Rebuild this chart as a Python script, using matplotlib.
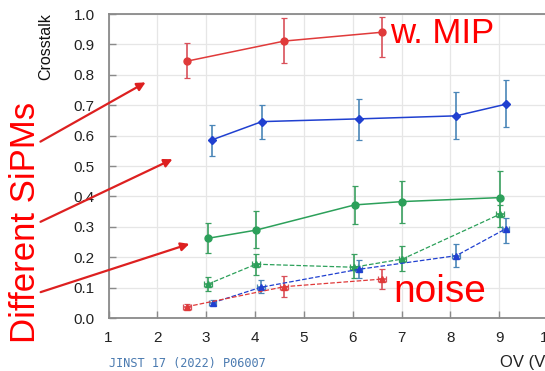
import matplotlib
matplotlib.use("Agg")
import matplotlib.pyplot as plt

# ---- data ----
red_mip_x = [2.61, 4.60, 6.60]
red_mip_y = [0.845, 0.911, 0.940]
red_mip_lo = [0.790, 0.840, 0.860]
red_mip_hi = [0.903, 0.986, 0.990]

blue_mip_x = [3.12, 4.14, 6.12, 8.12, 9.13]
blue_mip_y = [0.586, 0.646, 0.655, 0.665, 0.703]
blue_mip_lo = [0.534, 0.590, 0.586, 0.590, 0.627]
blue_mip_hi = [0.635, 0.700, 0.720, 0.742, 0.783]

green_mip_x = [3.03, 4.02, 6.04, 7.02, 9.01]
green_mip_y = [0.262, 0.289, 0.372, 0.383, 0.396]
green_mip_lo = [0.215, 0.229, 0.308, 0.313, 0.335]
green_mip_hi = [0.311, 0.352, 0.435, 0.450, 0.482]

green_noise_x = [3.03, 4.02, 6.02, 7.02, 9.01]
green_noise_y = [0.111, 0.177, 0.167, 0.194, 0.341]
green_noise_lo = [0.089, 0.141, 0.130, 0.155, 0.300]
green_noise_hi = [0.136, 0.210, 0.210, 0.238, 0.372]

blue_noise_x = [3.13, 4.12, 6.12, 8.12, 9.13]
blue_noise_y = [0.050, 0.101, 0.160, 0.205, 0.293]
blue_noise_lo = [0.042, 0.081, 0.133, 0.169, 0.246]
blue_noise_hi = [0.058, 0.125, 0.190, 0.243, 0.328]

red_noise_x = [2.60, 4.60, 6.60]
red_noise_y = [0.037, 0.103, 0.128]
red_noise_lo = [0.030, 0.068, 0.095]
red_noise_hi = [0.045, 0.139, 0.161]

x_ticks = [1, 2, 3, 4, 5, 6, 7, 8, 9, 10]
y_ticks = [0.0, 0.1, 0.2, 0.3, 0.4, 0.5, 0.6, 0.7, 0.8, 0.9, 1.0]

RED = "#e3242b"
BLUE = "#2040d0"
GREEN = "#2ca05a"

W, H = 545, 371
fig = plt.figure(figsize=(W / 100, H / 100), dpi=100)
ax = fig.add_axes([108.5 / W, 1 - 318 / H, (548 - 108.5) / W, (318 - 14) / H])
ax.set_xlim(1, 10)
ax.set_ylim(0, 1.0)
ax.set_xticks(x_ticks)
ax.set_yticks(y_ticks)
ax.set_xticklabels([str(t) for t in x_ticks])
ax.set_yticklabels([f"{t:.1f}" for t in y_ticks])
ax.grid(True, color="#e6e6e6", lw=0.9)
ax.set_axisbelow(True)
for s in ax.spines.values():
    s.set_color("#8a8a8a")
    s.set_linewidth(1.3)
ax.tick_params(direction="in", length=5, width=1, color="#8a8a8a",
               labelsize=11, labelcolor="#222222", pad=9)
ax.tick_params(axis="y", pad=10)
for lab in ax.get_xticklabels() + ax.get_yticklabels():
    lab.set_family(["Liberation Sans", "DejaVu Sans"])


def err(y, lo, hi):
    return [[a - b for a, b in zip(y, lo)], [b - a for a, b in zip(y, hi)]]


def series(x, y, lo, hi, col, ecol, ls, marker, ms, xerr=None):
    ax.errorbar(x, y, yerr=err(y, lo, hi), xerr=xerr, color=col, ecolor=ecol,
                ls=ls, lw=1.1 if ls == "-" else 0.9, marker=marker, ms=ms,
                mfc=col, mec=col, elinewidth=1.2, capsize=2, capthick=0.9,
                zorder=3)


series(red_mip_x, red_mip_y, red_mip_lo, red_mip_hi, "#e03a3a", "#d9505a", "-", "o", 5)
series(blue_mip_x, blue_mip_y, blue_mip_lo, blue_mip_hi, BLUE, "#4a86b8", "-", "D", 4.5)
series(green_mip_x, green_mip_y, green_mip_lo, green_mip_hi, GREEN, "#3aa060", "-", "o", 5)
series(green_noise_x, green_noise_y, green_noise_lo, green_noise_hi, GREEN, "#3aa060",
       "--", "^", 5, xerr=0.08)
series(blue_noise_x, blue_noise_y, blue_noise_lo, blue_noise_hi, BLUE, "#4a86b8",
       "--", "^", 5, xerr=0.08)
series(red_noise_x, red_noise_y, red_noise_lo, red_noise_hi, "#e03a3a", "#d9505a",
       "--", "^", 5, xerr=0.08)

# ---- texts ----
def fp(x, y):
    return (x / W, 1 - y / H)

fig.text(*fp(53, 13), "Crosstalk", rotation=90, ha="right", va="top",
         fontsize=11.5, color="#111111", family=["Liberation Sans", "DejaVu Sans"])
fig.text(*fp(500, 362), "OV (V)", ha="left", va="center", fontsize=12,
         color="#222222", family=["Liberation Sans", "DejaVu Sans"])
fig.text(*fp(109, 363), "JINST 17 (2022) P06007", ha="left", va="center",
         fontsize=8.6, color="#4a7ab0", family=["DejaVu Sans Mono"])
fig.text(*fp(390, 43), "w. MIP", ha="left", va="baseline", fontsize=25,
         color="#ff0000", family=["Liberation Sans", "DejaVu Sans"])
fig.text(*fp(393, 302), "noise", ha="left", va="baseline", fontsize=28,
         color="#ff0000", family=["Liberation Sans", "DejaVu Sans"])
fig.text(*fp(42, 343), "Different SiPMs", rotation=90, ha="right", va="bottom",
         fontsize=25, color="#ff0000", family=["Liberation Sans", "DejaVu Sans"])

arrows = [((38, 143), (148, 81)), ((38, 223), (175, 158)), ((38, 293), (192, 243))]
for (x0, y0), (x1, y1) in arrows:
    fig.add_artist(matplotlib.patches.FancyArrowPatch(
        fp(x0, y0), fp(x1, y1), transform=fig.transFigure,
        arrowstyle="-|>,head_length=5,head_width=2.5", color="#dd2020",
        lw=1.6, mutation_scale=1))

fig.savefig("out.png", dpi=100)
